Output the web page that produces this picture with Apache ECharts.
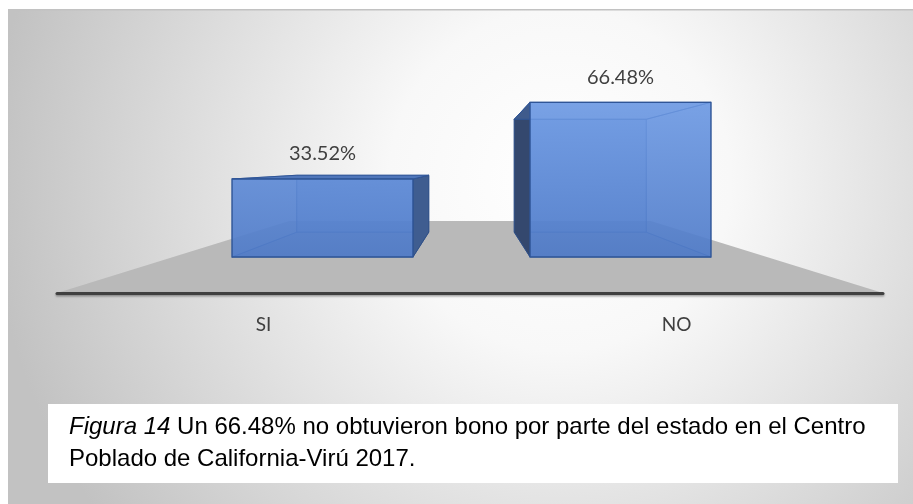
<!DOCTYPE html>
<html>
<head>
<meta charset="utf-8">
<script src="https://cdn.jsdelivr.net/npm/echarts@6/dist/echarts.min.js"></script>
<style>
  html, body { margin: 0; padding: 0; background: #fff; }
  #chart { width: 913px; height: 504px; }
</style>
</head>
<body>
<div id="chart"></div>
<script>
const categories = ['SI', 'NO']
const percentages = [33.52, 66.48]
const captionItalic = 'Figura 14'
const captionLine1 = ' Un 66.48% no obtuvieron bono por parte del estado en el Centro'
const captionLine2 = 'Poblado de California-Virú 2017.'

// perspective settings (vanishing point sits between the boxes)
const BOX_RATIO = 0.607
const DEPTH_K = 0.73
const FLOOR_K = 0.4375
const VP_FRAC = 0.605

const chart = echarts.init(document.getElementById('chart'))

function project(p, vp, k) {
  return [vp[0] + (p[0] - vp[0]) * k, vp[1] + (p[1] - vp[1]) * k]
}

function renderFloor(params, api) {
  const cs = params.coordSys
  const vpx = cs.x + cs.width / 2
  const fy = cs.y + cs.height
  const bl = vpx + (cs.x - vpx) * FLOOR_K
  const br = vpx + (cs.x + cs.width - vpx) * FLOOR_K
  return {
    type: 'polygon',
    shape: { points: [[cs.x, fy], [cs.x + cs.width, fy], [br, cs.y], [bl, cs.y]] },
    style: { fill: '#b9b9b9' },
  }
}

function renderBox(params, api) {
  const cs = params.coordSys
  const idx = api.value(0)
  const val = api.value(1)
  const top = api.coord([idx, val])
  const base = api.coord([idx, 0])
  const hw = api.size([1, 0])[0] * BOX_RATIO / 2
  const vp = [cs.x + cs.width / 2, cs.y + cs.height * VP_FRAC]
  const cx = top[0]

  const ftl = [cx - hw, top[1]], ftr = [cx + hw, top[1]]
  const fbr = [cx + hw, base[1]], fbl = [cx - hw, base[1]]
  const btl = project(ftl, vp, DEPTH_K), btr = project(ftr, vp, DEPTH_K)
  const bbr = project(fbr, vp, DEPTH_K), bbl = project(fbl, vp, DEPTH_K)

  const edge = 'rgba(47,85,151,0.55)'
  const outerRight = cx < vp[0]
  const topVisible = top[1] > vp[1]
  const darkSide = outerRight ? '#3f5d90' : '#34486e'

  const frontFill = new echarts.graphic.LinearGradient(0, cs.y, 0, base[1], [
    { offset: 0, color: 'rgba(125,170,242,0.88)' },
    { offset: 1, color: 'rgba(78,122,200,0.88)' },
  ], true)

  return {
    type: 'group',
    children: [
      { type: 'polygon', shape: { points: [btl, btr, bbr, bbl] },
        style: { fill: 'rgba(90,135,212,0.55)', stroke: edge, lineWidth: 1 } },
      { type: 'polygon', shape: { points: [fbl, fbr, bbr, bbl] },
        style: { fill: 'rgba(55,95,170,0.35)', stroke: edge, lineWidth: 1 } },
      { type: 'polygon', shape: { points: [ftl, btl, bbl, fbl] },
        style: { fill: outerRight ? 'rgba(90,135,212,0.3)' : darkSide, stroke: outerRight ? edge : '#2f4f86', lineWidth: 1 } },
      { type: 'polygon', shape: { points: [ftr, btr, bbr, fbr] },
        style: { fill: outerRight ? darkSide : 'rgba(90,135,212,0.3)', stroke: outerRight ? '#2f4f86' : edge, lineWidth: 1 } },
      { type: 'polygon', shape: { points: [ftl, ftr, btr, btl] },
        style: { fill: topVisible ? '#4f76ba' : 'rgba(90,135,212,0.3)', stroke: '#2f5597', lineWidth: 1 } },
      { type: 'rect', shape: { x: ftl[0], y: ftl[1], width: hw * 2, height: base[1] - top[1] },
        style: { fill: frontFill, stroke: '#2f5597', lineWidth: 1.3 } },
      { type: 'text', x: cx, y: top[1] - 25,
        style: { text: val.toFixed(2) + '%', align: 'center', verticalAlign: 'middle',
          fill: '#404040', font: '20px Lato' } },
    ],
  }
}

const option = {
  backgroundColor: '#ffffff',
  animation: false,
  graphic: [
    {
      type: 'rect', z: -10, silent: true,
      shape: { x: 8, y: 9, width: 905, height: 495 },
      style: {
        fill: new echarts.graphic.RadialGradient(560, 180, 570, [
          { offset: 0, color: '#ffffff' },
          { offset: 0.3, color: '#f8f8f8' },
          { offset: 1, color: '#c2c2c2' },
        ], true),
      },
    },
    { type: 'rect', z: -9, silent: true, shape: { x: 8, y: 9, width: 905, height: 1.5 }, style: { fill: '#c2c2c2' } },
    { type: 'rect', z: 10, silent: true, shape: { x: 48, y: 404, width: 850, height: 79 }, style: { fill: '#ffffff' } },
    {
      type: 'text', z: 11, x: 69, y: 427, silent: true,
      style: {
        text: '{i|' + captionItalic + '}' + captionLine1,
        font: '24px "Liberation Sans"', fill: '#000', verticalAlign: 'middle',
        rich: { i: { fontStyle: 'italic', fontSize: 24, fontFamily: 'Liberation Sans', fill: '#000' } },
      },
    },
    {
      type: 'text', z: 11, x: 69, y: 459, silent: true,
      style: { text: captionLine2, font: '24px "Liberation Sans"', fill: '#000', verticalAlign: 'middle' },
    },
  ],
  grid: [
    { left: 173.5, right: 143.5, top: 24.3, bottom: 247 },
    { left: 57, right: 30, top: 221, bottom: 211 },
  ],
  xAxis: [
    { gridIndex: 0, type: 'category', data: categories, show: false },
    {
      gridIndex: 1, type: 'category', data: categories,
      axisTick: { show: false },
      axisLine: { lineStyle: { color: '#404040', width: 3, shadowColor: 'rgba(0,0,0,0.35)', shadowBlur: 2, shadowOffsetY: 1.5 } },
      axisLabel: { color: '#404040', fontSize: 19, fontFamily: 'Lato', margin: 22 },
      z: 3,
    },
  ],
  yAxis: [
    { gridIndex: 0, type: 'value', min: 0, max: 100, show: false },
    { gridIndex: 1, type: 'value', min: 0, max: 1, show: false },
  ],
  series: [
    {
      type: 'custom', xAxisIndex: 1, yAxisIndex: 1, z: 1,
      renderItem: renderFloor,
      data: [[0, 0]],
      silent: true,
    },
    {
      type: 'custom', xAxisIndex: 0, yAxisIndex: 0, z: 4,
      renderItem: renderBox,
      data: percentages.map((v, i) => [i, v]),
      encode: { x: 0, y: 1 },
    },
  ],
}

chart.setOption(option)
</script>
</body>
</html>
